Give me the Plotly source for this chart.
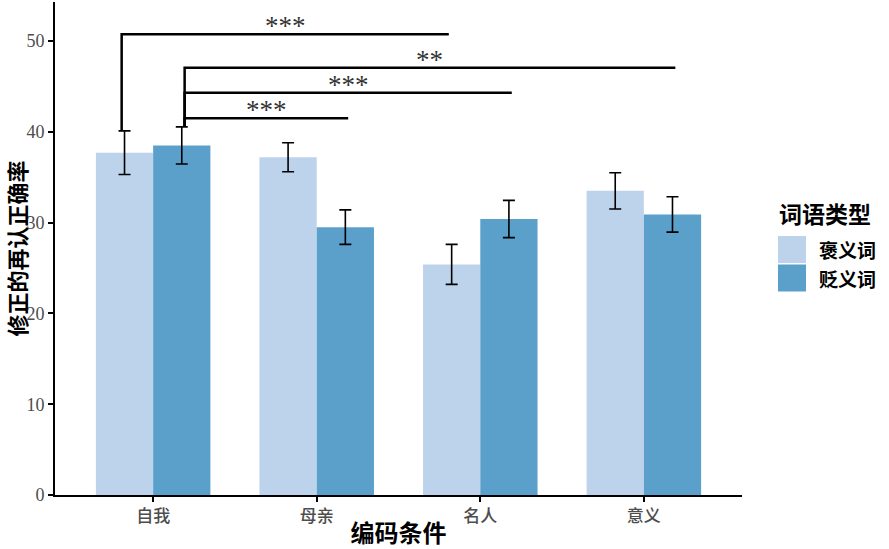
import plotly.graph_objects as go

# ---- data ----
categories = ["自我", "母亲", "名人", "意义"]
series_names = ["褒义词", "贬义词"]
pos_values = [37.7, 37.2, 25.4, 33.5]
pos_errors = [2.4, 1.6, 2.2, 2.0]
neg_values = [38.5, 29.5, 30.4, 30.9]
neg_errors = [2.05, 1.9, 2.05, 1.95]
colors = ["#BDD3EB", "#5B9FCB"]

# significance comparisons: (start category, start series, end category, end series, height, label)
comparisons = [
    ("自我", 0, "名人", 0, 50.75, "***"),
    ("自我", 1, "意义", 1, 47.05, "**"),
    ("自我", 1, "名人", 1, 44.3, "***"),
    ("自我", 1, "母亲", 1, 41.5, "***"),
]

y_ticks = [0, 10, 20, 30, 40, 50]

SERIF = "Liberation Serif, Noto Sans CJK SC, serif"
CJK = "Noto Sans CJK SC, sans-serif"

values = [pos_values, neg_values]
errors = [pos_errors, neg_errors]

fig = go.Figure()
for name, vals, errs, col in zip(series_names, values, errors, colors):
    fig.add_trace(go.Bar(
        x=categories, y=vals, name=name,
        marker=dict(color=col, line=dict(width=0)),
        error_y=dict(type="data", array=errs, color="black", thickness=1.6, width=6),
        showlegend=False,
    ))

bar_w = 0.35
offsets = [-bar_w / 2, bar_w / 2]
tops = [[v + e for v, e in zip(vals, errs)] for vals, errs in zip(values, errors)]

shapes = []
annotations = []
for (c0, s0, c1, s1, h, lab) in comparisons:
    i0 = categories.index(c0)
    i1 = categories.index(c1)
    xs = i0 + offsets[s0] * 1.1
    xe = i1 + offsets[s1] * 1.1
    ystart = tops[s0][i0]
    shapes.append(dict(type="path", xref="x", yref="y",
                       path=f"M {xs},{ystart} L {xs},{h} L {xe},{h}",
                       line=dict(color="black", width=2.5)))
    annotations.append(dict(x=(xs + xe) / 2, y=h, xref="x", yref="y",
                            text=lab, showarrow=False, yanchor="bottom", yshift=-9,
                            font=dict(family=SERIF, size=27, color="#333333")))

# ---- custom legend (paper coords) ----
L, R, T, B = 55, 147, 2, 54
W, H = 889, 549
pw, ph = W - L - R, H - T - B


def px(x):
    return (x - L) / pw


def py(y):
    return (H - B - y) / ph


annotations.append(dict(x=px(777), y=py(213), xref="paper", yref="paper",
                        text="<b>词语类型</b>", showarrow=False, xanchor="left", yanchor="middle",
                        font=dict(family=CJK, size=23, color="black")))
for k, (name, col) in enumerate(zip(series_names, colors)):
    y0 = 236 + k * 28.5
    shapes.append(dict(type="rect", xref="paper", yref="paper",
                       x0=px(778), x1=px(806), y0=py(y0), y1=py(y0 + 27),
                       fillcolor=col, line=dict(width=0)))
    annotations.append(dict(x=px(817), y=py(y0 + 13.5), xref="paper", yref="paper",
                            text=f"<b>{name}</b>", showarrow=False, xanchor="left", yanchor="middle",
                            font=dict(family=CJK, size=19, color="black")))

fig.update_layout(
    width=W, height=H,
    margin=dict(l=L, r=R, t=T, b=B),
    paper_bgcolor="white", plot_bgcolor="white",
    barmode="group", bargap=0.3, bargroupgap=0,
    shapes=shapes, annotations=annotations,
    font=dict(family=SERIF),
    xaxis=dict(
        range=[-0.6, 3.6], showline=True, linecolor="black", linewidth=2,
        ticks="outside", ticklen=5, tickwidth=1.5, tickcolor="black",
        tickfont=dict(family=CJK, size=17, color="#4D4D4D", weight=500),
        title=dict(text="<b>编码条件</b>", font=dict(family=CJK, size=24, color="black"), standoff=2),
        showgrid=False, zeroline=False, automargin=False,
    ),
    yaxis=dict(
        range=[0, 54.3], showline=True, linecolor="black", linewidth=2,
        tickvals=y_ticks, ticks="outside", ticklen=5, tickwidth=1.5, tickcolor="black",
        tickfont=dict(family=SERIF, size=18, color="#4D4D4D"),
        title=dict(text="<b>修正的再认正确率</b>", font=dict(family=CJK, size=22, color="black"), standoff=10),
        showgrid=False, zeroline=False, automargin=False,
    ),
)

fig.write_html("out.html")
